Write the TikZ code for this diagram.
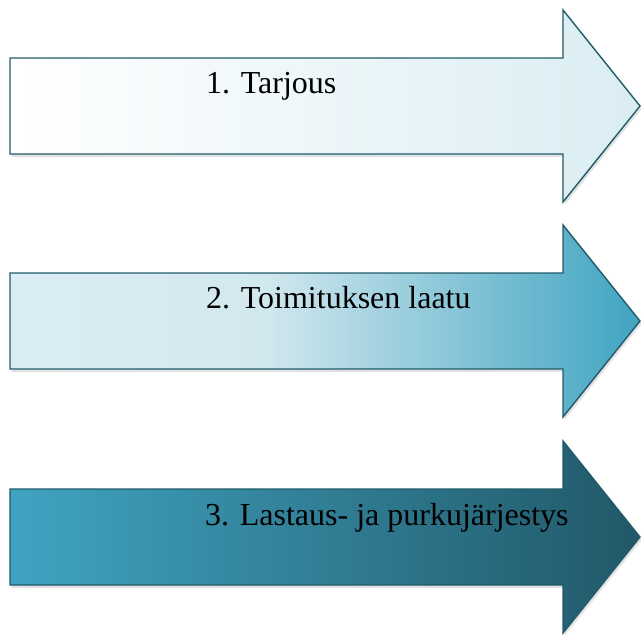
\documentclass[tikz,border=0pt]{standalone}
\usepackage{fontspec}
\newfontfamily\tnr{LiberationSerif}[Extension=.ttf, UprightFont=*-Regular]
\usetikzlibrary{shadings}
\definecolor{edge}{HTML}{215B6A}
\definecolor{pale}{HTML}{DAEDF3}
\definecolor{palemid}{HTML}{D2E8EF}
\definecolor{teal}{HTML}{40A4C1}
\definecolor{deep}{HTML}{215868}
\pgfdeclarehorizontalshading{shadeA}{100bp}{color(0bp)=(white); color(25bp)=(white); color(75bp)=(pale); color(100bp)=(pale)}
\pgfdeclarehorizontalshading{shadeB}{100bp}{color(0bp)=(pale); color(25bp)=(pale); color(45bp)=(palemid); color(75bp)=(teal); color(100bp)=(teal)}
\pgfdeclarehorizontalshading{shadeC}{100bp}{color(0bp)=(teal); color(25bp)=(teal); color(75bp)=(deep); color(100bp)=(deep)}
\tikzset{
  arrowbox/.style={draw=edge, line width=1.4pt, line join=miter},
  shadowbox/.style={fill=black!25, draw=none, opacity=0.45, xshift=1.5pt, yshift=-3pt},
  lbl/.style={anchor=base west, inner sep=0pt, font=\tnr\fontsize{32}{38}\selectfont, text=black}
}
\newcommand{\arrowpath}[1]{(10,#1-48) -- (563,#1-48) -- (563,#1-96) -- (640,#1) -- (563,#1+96) -- (563,#1+48) -- (10,#1+48) -- cycle}
\begin{document}
\begin{tikzpicture}[x=1pt,y=-1pt]
\useasboundingbox (0,0) rectangle (642,635);
% arrow 1
\fill[shadowbox] \arrowpath{106};
\shade[shading=shadeA, arrowbox] \arrowpath{106};
\node[lbl] (t1) at (206,93) {1. Tarjous};
% arrow 2
\fill[shadowbox] \arrowpath{321};
\shade[shading=shadeB, arrowbox] \arrowpath{321};
\node[lbl] (t2) at (206,308) {2. Toimituksen laatu};
% arrow 3
\fill[shadowbox] \arrowpath{537};
\shade[shading=shadeC, arrowbox] \arrowpath{537};
\node[lbl] (t3) at (205,525) {3. Lastaus- ja purkujärjestys};
\end{tikzpicture}
\end{document}
